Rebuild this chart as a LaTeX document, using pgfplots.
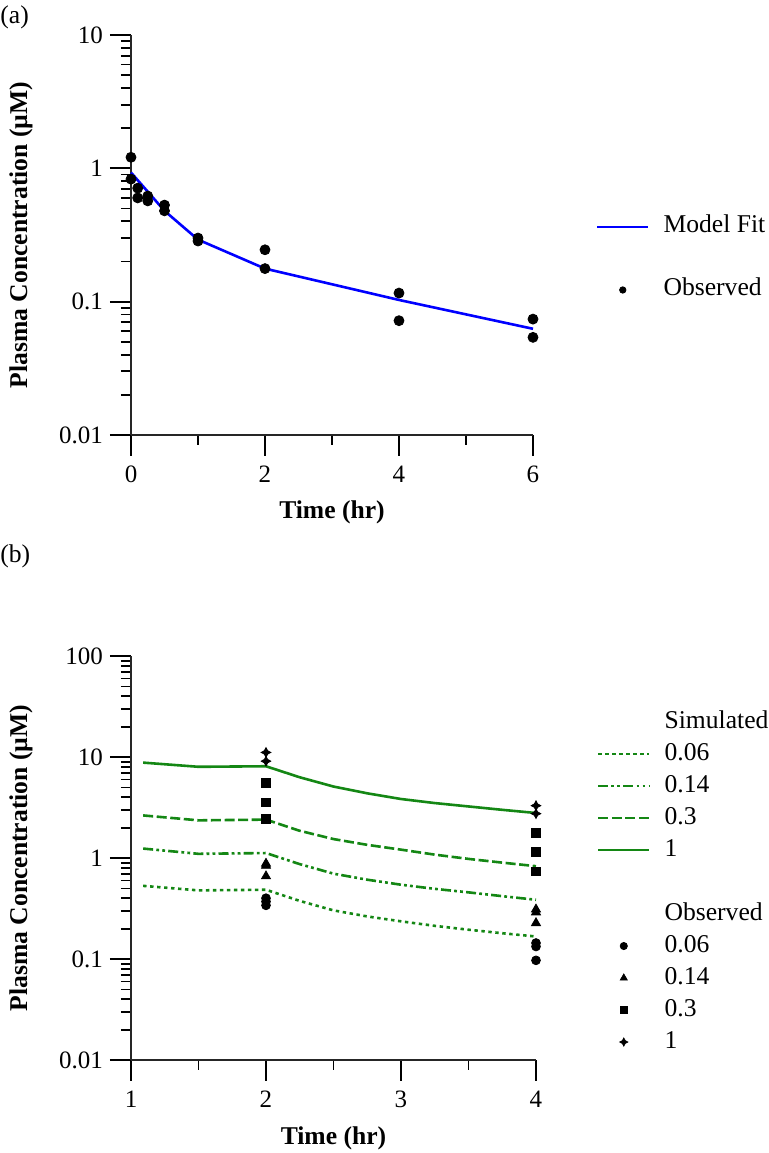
\documentclass[border=0pt]{standalone}
\usepackage{fontspec}
\setmainfont{Liberation Serif}
\usepackage{pgfplots}
\pgfplotsset{compat=1.18}
\definecolor{simgreen}{RGB}{20,135,20}
\pgfdeclareplotmark{star4}{%
  \pgfpathmoveto{\pgfqpoint{0pt}{\pgfplotmarksize}}%
  \pgfpathlineto{\pgfqpoint{0.35\pgfplotmarksize}{0.35\pgfplotmarksize}}%
  \pgfpathlineto{\pgfqpoint{\pgfplotmarksize}{0pt}}%
  \pgfpathlineto{\pgfqpoint{0.35\pgfplotmarksize}{-0.35\pgfplotmarksize}}%
  \pgfpathlineto{\pgfqpoint{0pt}{-\pgfplotmarksize}}%
  \pgfpathlineto{\pgfqpoint{-0.35\pgfplotmarksize}{-0.35\pgfplotmarksize}}%
  \pgfpathlineto{\pgfqpoint{-\pgfplotmarksize}{0pt}}%
  \pgfpathlineto{\pgfqpoint{-0.35\pgfplotmarksize}{0.35\pgfplotmarksize}}%
  \pgfpathclose
  \pgfusepathqfillstroke}
\pgfplotsset{
  linelegend/.style={legend image code/.code={\draw[##1] (0pt,0pt) -- (25.5pt,0pt);}},
  marklegend/.style={legend image code/.code={\draw[##1,mark size=#1] plot coordinates {(12.75pt,0pt)};}},
  myaxis/.style={
    scale only axis,
    axis x line=bottom, axis y line=left,
    axis line style={-, line width=1.4pt, black!85},
    tick align=outside,
    major tick length=10.5pt, minor tick length=5pt,
    every tick/.append style={black, line width=0.9pt},
    every minor tick/.append style={black, line width=0.9pt},
    tick label style={font=\fontsize{12.5}{15}\selectfont, black},
    xticklabel style={yshift=-1.5pt},
    every axis label/.append style={font=\bfseries\fontsize{12.8}{15}\selectfont},
    clip=false,
    legend cell align=left,
  },
  mylegend/.style={legend style={draw=none, fill=none, inner sep=0pt, outer sep=0pt,
      nodes={inner sep=0pt, text height=9pt, text depth=3pt, font=\fontsize{12.8}{15}\selectfont},
      /tikz/every odd column/.append style={column sep=7pt}}},
}
\begin{document}
\begin{tikzpicture}
\useasboundingbox (0,0) rectangle (384pt,576.5pt);
\node[anchor=north west, inner sep=0pt, font=\fontsize{12.8}{15}\selectfont] at (0pt,574pt) {(a)};
\node[anchor=west, inner sep=0pt, font=\fontsize{12.8}{15}\selectfont] at (0pt,298.5pt) {(b)};

\begin{axis}[ymode=log, myaxis, mylegend,
  at={(65.5pt,359pt)}, anchor=south west,
  width=201pt, height=200pt,
  xmin=0, xmax=6, ymin=0.01, ymax=10,
  xtick={0,2,4,6}, xticklabels={0,2,4,6}, minor xtick={1,3,5},
  ytick={0.01,0.1,1,10}, yticklabels={0.01,0.1,1,10},
  minor ytick={0.02,0.03,0.04,0.05,0.06,0.07,0.08,0.09,0.2,0.3,0.4,0.5,0.6,0.7,0.8,0.9,2,3,4,5,6,7,8,9},
  xlabel={Time (hr)}, ylabel={Plasma Concentration (µM)},
  every axis x label/.style={at={(axis description cs:0.5,-0.1925)}, anchor=center},
  every axis y label/.style={at={(axis description cs:-0.2736,0.5)}, anchor=center, rotate=90},
  legend style={at={(axis description cs:1.1567,0.55)}, anchor=north west, row sep=19.5pt},
]
\addplot[blue, line width=1.3pt, linelegend] coordinates {
 (0,0.93) (0.5,0.48) (1,0.292) (2,0.177) (4,0.103) (6,0.0626)};
\addlegendentry{Model Fit}
\addplot[only marks, mark=*, mark size=2.5pt, black, marklegend=1.6pt] coordinates {
 (0,1.21) (0,0.83) (0.1,0.71) (0.1,0.60) (0.25,0.62) (0.25,0.57)
 (0.5,0.53) (0.5,0.48) (1,0.30) (1,0.285) (2,0.245) (2,0.177)
 (4,0.116) (4,0.072) (6,0.074) (6,0.054)};
\addlegendentry{Observed}
\end{axis}

\begin{axis}[ymode=log, myaxis, mylegend,
  at={(65.5pt,46.5pt)}, anchor=south west,
  width=202.5pt, height=202pt,
  xmin=1, xmax=4, ymin=0.01, ymax=100,
  xtick={1,2,3,4}, xticklabels={1,2,3,4}, minor xtick={1.5,2.5,3.5},
  ytick={0.01,0.1,1,10,100}, yticklabels={0.01,0.1,1,10,100},
  minor ytick={0.02,0.03,0.04,0.05,0.06,0.07,0.08,0.09,0.2,0.3,0.4,0.5,0.6,0.7,0.8,0.9,2,3,4,5,6,7,8,9,20,30,40,50,60,70,80,90},
  xlabel={Time (hr)}, ylabel={Plasma Concentration (µM)},
  every axis x label/.style={at={(axis description cs:0.5,-0.193)}, anchor=center},
  every axis y label/.style={at={(axis description cs:-0.2716,0.5)}, anchor=center, rotate=90},
  legend style={at={(axis description cs:1.1506,0.8663)}, anchor=north west, row sep=4pt},
]
\addlegendimage{empty legend}\addlegendentry{Simulated}
\addplot[simgreen, line width=1.3pt, dash pattern=on 1.7pt off 1.8pt, linelegend] coordinates {
 (1.09,0.53) (1.5,0.478) (2,0.485) (2.25,0.376) (2.5,0.303) (2.75,0.264) (3,0.236) (3.25,0.213) (3.5,0.195) (3.75,0.18) (4,0.167)};
\addlegendentry{0.06}
\addplot[simgreen, line width=1.3pt, dash pattern=on 5pt off 1.6pt on 1.4pt off 1.6pt on 1.4pt off 1.6pt, linelegend] coordinates {
 (1.09,1.24) (1.5,1.10) (2,1.12) (2.25,0.87) (2.5,0.70) (2.75,0.61) (3,0.544) (3.25,0.495) (3.5,0.457) (3.75,0.419) (4,0.386)};
\addlegendentry{0.14}
\addplot[simgreen, line width=1.3pt, dash pattern=on 5pt off 1.8pt, linelegend] coordinates {
 (1.09,2.64) (1.5,2.36) (2,2.40) (2.25,1.86) (2.5,1.54) (2.75,1.35) (3,1.21) (3.25,1.08) (3.5,0.98) (3.75,0.90) (4,0.83)};
\addlegendentry{0.3}
\addplot[simgreen, line width=1.3pt, linelegend] coordinates {
 (1.09,8.8) (1.5,8.0) (2,8.1) (2.25,6.3) (2.5,5.1) (2.75,4.37) (3,3.84) (3.25,3.5) (3.5,3.24) (3.75,3.0) (4,2.79)};
\addlegendentry{1}
\addlegendimage{empty legend}\addlegendentry{}
\addlegendimage{empty legend}\addlegendentry{Observed}
\addplot[only marks, mark=*, mark size=2.2pt, black, marklegend=1.8pt] coordinates {
 (2,0.40) (2,0.37) (2,0.34) (4,0.144) (4,0.133) (4,0.097)};
\addlegendentry{0.06}
\addplot[only marks, mark=triangle*, mark size=2.6pt, black, marklegend=2pt] coordinates {
 (2,0.88) (2,0.84) (2,0.66) (4,0.31) (4,0.29) (4,0.227)};
\addlegendentry{0.14}
\addplot[only marks, mark=square*, mark size=2.2pt, black, marklegend=1.7pt] coordinates {
 (2,5.5) (2,3.55) (2,2.43) (4,1.77) (4,1.15) (4,0.736)};
\addlegendentry{0.3}
\addplot[only marks, mark=star4, mark size=2.4pt, black, marklegend=2pt] coordinates {
 (2,11.1) (2,9.1) (4,3.3) (4,2.75)};
\addlegendentry{1}
\end{axis}
\end{tikzpicture}
\end{document}
